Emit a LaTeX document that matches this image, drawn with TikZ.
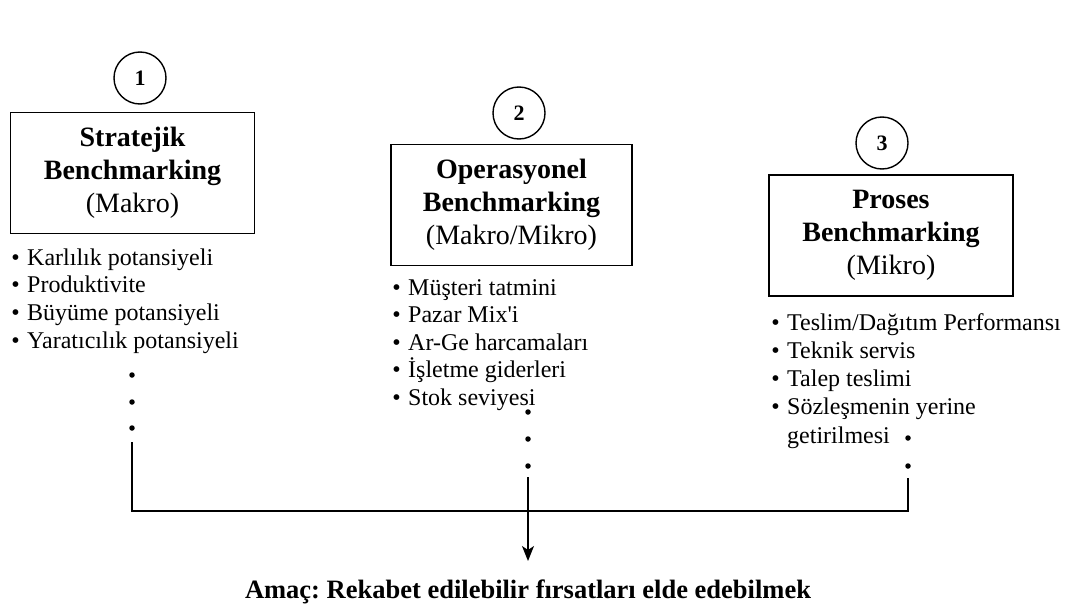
\documentclass[tikz,border=0pt]{standalone}
\usepackage{fontspec}
\setmainfont{Liberation Serif}
\usetikzlibrary{arrows.meta}
\frenchspacing
\tikzset{
  numcirc/.style={draw, circle, line width=1.4pt, minimum size=52pt, inner sep=0pt,
    font=\fontsize{22}{22}\selectfont\bfseries},
  typebox/.style={draw, line width=1.5pt, minimum width=244pt, minimum height=121pt,
    inner sep=0pt, align=center, font=\fontsize{28}{33}\selectfont},
  item/.style={anchor=base west, inner sep=0pt, font=\fontsize{24}{28}\selectfont},
  dotmark/.style={circle, fill=black, minimum size=5.5pt, inner sep=0pt},
  conn/.style={line width=1.4pt},
  goal/.style={inner sep=0pt, font=\fontsize{26.5}{30}\selectfont\bfseries}
}
\newcommand{\bul}{\llap{\textbullet\hspace{7.5pt}}}
\begin{document}
\begin{tikzpicture}[x=1pt,y=-1pt]
\useasboundingbox (0,0) rectangle (1072,605);

% circles
\node[numcirc] (n1) at (140,78) {1};
\node[numcirc] (n2) at (519,113) {2};
\node[numcirc] (n3) at (882,143) {3};

% boxes
\node[typebox] (b1) at (132.5,173) {\textbf{Stratejik}\\\textbf{Benchmarking}\\(Makro)};
\node[typebox, minimum width=241pt] (b2) at (511.5,205) {\textbf{Operasyonel}\\\textbf{Benchmarking}\\(Makro/Mikro)};
\node[typebox] (b3) at (891,235.5) {\textbf{Proses}\\\textbf{Benchmarking}\\(Mikro)};

% list 1
\node[item] (a1) at (27,265) {\bul Karlılık potansiyeli};
\node[item] (a2) at (27,292.5) {\bul Produktivite};
\node[item] (a3) at (27,320.5) {\bul Büyüme potansiyeli};
\node[item] (a4) at (27,348.5) {\bul Yaratıcılık potansiyeli};

% list 2
\node[item] (m1) at (408,295) {\bul Müşteri tatmini};
\node[item] (m2) at (408,322.5) {\bul Pazar Mix\textquotesingle i};
\node[item] (m3) at (408,350) {\bul Ar-Ge harcamaları};
\node[item] (m4) at (408,377.5) {\bul İşletme giderleri};
\node[item] (m5) at (408,405) {\bul Stok seviyesi};

% list 3
\node[item] (p1) at (787,330) {\bul Teslim/Dağıtım Performansı};
\node[item] (p2) at (787,358) {\bul Teknik servis};
\node[item] (p3) at (787,386) {\bul Talep teslimi};
\node[item] (p4) at (787,414) {\bul Sözleşmenin yerine};
\node[item] (p5) at (787,443) {getirilmesi};

% dots
\node[dotmark] (d11) at (132,375) {};
\node[dotmark] (d12) at (132,402) {};
\node[dotmark] (d13) at (132,428) {};
\node[dotmark] (d21) at (528,412) {};
\node[dotmark] (d22) at (528,439) {};
\node[dotmark] (d23) at (528,466) {};
\node[dotmark] (d31) at (908,438) {};
\node[dotmark] (d32) at (908,466) {};

% goal
\node[goal] (goal) at (528,592) {Amaç: Rekabet edilebilir fırsatları elde edebilmek};

% connectors
\coordinate (s1) at (132,442);
\coordinate (j1) at (132,511);
\coordinate (j3) at (908,511);
\coordinate (s3) at (908,478);
\coordinate (s2) at (528,477);
\coordinate (t2) at (528,561);
\draw[conn] (s1) -- (j1) -- (j3) -- (s3);
\draw[conn, -{Stealth[length=15pt,width=12pt,inset=4pt]}] (s2) -- (t2);
\end{tikzpicture}
\end{document}
